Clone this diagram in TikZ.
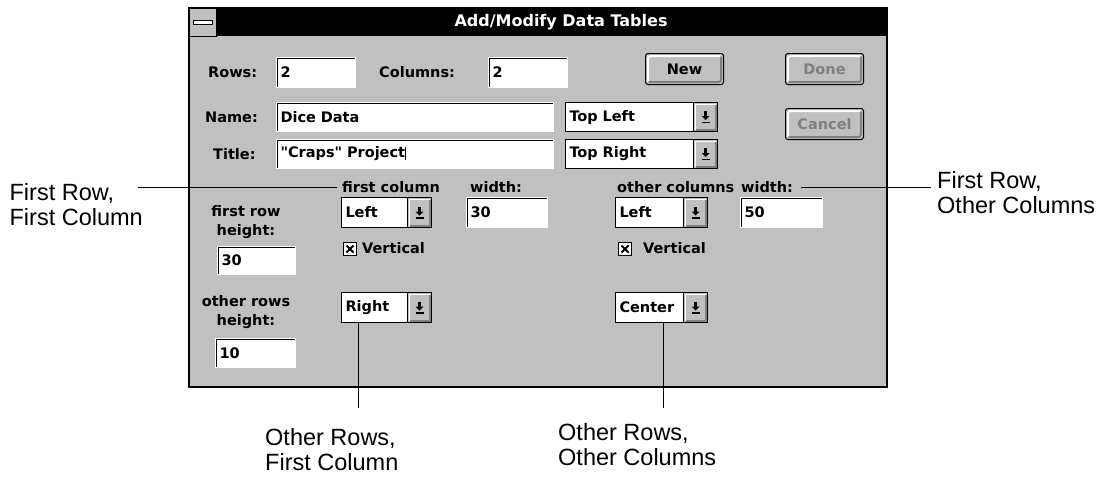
\documentclass[tikz,border=0pt]{standalone}
\usepackage{fontspec}
\setmainfont{Liberation Sans}
\newfontfamily\dlgfont{DejaVu Sans}
\usepackage{tikz}
\usetikzlibrary{calc}
\definecolor{wingray}{RGB}{192,192,192}
\definecolor{darkedge}{RGB}{128,128,128}

\begin{document}
\begin{tikzpicture}[x=1pt, y=-1pt,
  dlg/.style={font=\dlgfont\bfseries\fontsize{14.5}{19}\selectfont},
  lbl/.style={dlg, anchor=west, inner sep=0pt},
  note/.style={font=\fontsize{23.5}{25}\selectfont, align=left, inner sep=0pt},
  lead/.style={line width=1},
  field/.style 2 args={dlg, anchor=north west, fill=white, draw=white, line width=1,
    minimum width=#1, minimum height=#2, text width=#1-8, align=left,
    inner xsep=4pt, inner ysep=0pt,
    path picture={\draw[black, line width=3]
      (path picture bounding box.south west) -- (path picture bounding box.north west)
      -- (path picture bounding box.north east);}},
  combo/.style 2 args={dlg, anchor=north west, fill=white, draw=black, line width=1,
    minimum width=#1, minimum height=#2, text width=#1-8, align=left,
    inner xsep=4pt, inner ysep=0pt,
    path picture={
      \coordinate (cbne) at (path picture bounding box.north east);
      \coordinate (cbse) at (path picture bounding box.south east);
      \draw[draw=black, fill=wingray, line width=1] ($(cbne)+(-24,0)$) rectangle (cbse);
      \draw[white, line width=1.5] ($(cbse)+(-22,-2)$) -- ($(cbne)+(-22,2)$) -- ($(cbne)+(-2,2)$);
      \draw[darkedge, line width=1.5] ($(cbse)+(-22,-1.5)$) -- ($(cbse)+(-1.5,-1.5)$) -- ($(cbne)+(-1.5,2)$);
      \coordinate (cbc) at ($(cbne)!0.5!(cbse)+(-12,0)$);
      \fill[black] ($(cbc)+(-1.2,-6)$) rectangle ($(cbc)+(1.2,-1)$);
      \fill[black] ($(cbc)+(-4,-1)$) -- ($(cbc)+(4,-1)$) -- ($(cbc)+(0,3)$) -- cycle;
      \draw[black, line width=1.4] ($(cbc)+(-4,5.5)$) -- ($(cbc)+(4,5.5)$);}},
  btn/.style={dlg, anchor=north west, fill=wingray, draw=black, line width=1,
    rounded corners=2.5, minimum width=#1, minimum height=31, inner sep=0pt,
    path picture={
      \draw[white, line width=2] ($(path picture bounding box.south west)+(2.5,-3)$)
        -- ($(path picture bounding box.north west)+(2.5,2.5)$)
        -- ($(path picture bounding box.north east)+(-3,2.5)$);
      \draw[darkedge, line width=2] ($(path picture bounding box.south west)+(3,-2.5)$)
        -- ($(path picture bounding box.south east)+(-2.5,-2.5)$)
        -- ($(path picture bounding box.north east)+(-2.5,3)$);}},
  chk/.style={anchor=north west, draw=black, fill=white, line width=1,
    minimum size=13, inner sep=0pt,
    path picture={
      \draw[black, line width=1.8] ($(path picture bounding box.north west)+(3,3)$)
        -- ($(path picture bounding box.south east)+(-3,-3)$);
      \draw[black, line width=1.8] ($(path picture bounding box.south west)+(3,-3)$)
        -- ($(path picture bounding box.north east)+(-3,3)$);}}]
  \useasboundingbox (0,0) rectangle (1109,480);
  % window frame and title bar
  \draw[fill=wingray, line width=1.5] (189,8) rectangle (887,387);
  \fill[black] (189,8) rectangle (887,36);
  \draw[fill=wingray, line width=1] (189,8) rectangle (216,36);
  \draw[fill=white, line width=0.8] (193,20) rectangle (212,24);
  \node[dlg, white, font=\dlgfont\bfseries\fontsize{16}{18}\selectfont] (wintitle) at (561,22) {Add/Modify Data Tables};
  % top rows
  \node[lbl] (rowslbl) at (208,72) {Rows:};
  \node[field={79}{30}] (rowsbox) at (276,57) {2};
  \node[lbl] (colslbl) at (379,72) {Columns:};
  \node[field={79}{30}] (colsbox) at (488,57) {2};
  \node[btn=78] (newbtn) at (645,53) {New};
  \node[btn=78, text=darkedge] (donebtn) at (785,53) {Done};
  \node[lbl] (namelbl) at (205,117) {Name:};
  \node[field={277}{29}] (namebox) at (276,102) {Dice Data};
  \node[combo={152}{29}] (tlcb) at (565,102) {Top Left};
  \node[btn=78, text=darkedge] (cancelbtn) at (785,108) {Cancel};
  \node[lbl] (titlelbl) at (213,154) {Title:};
  \node[field={277}{29}] (titlebox) at (276,139) {"Craps" Project\rule[-2pt]{1pt}{13pt}};
  \node[combo={152}{29}] (trcb) at (565,139) {Top Right};
  % first row settings
  \node[lbl] (firstcol) at (342,187) {first column};
  \node[lbl] (fcwidth) at (470,187) {width:};
  \node[lbl] (othercol) at (617,187) {other columns};
  \node[lbl] (ocwidth) at (741,187) {width:};
  \node[dlg, align=center, inner sep=0pt] (firstrow) at (246,222) {first row\\height:};
  \node[combo={90}{30}] (fclcb) at (341,197) {Left};
  \node[field={81}{30}] (fcwbox) at (466,197) {30};
  \node[combo={92}{30}] (oclcb) at (615,197) {Left};
  \node[field={82}{30}] (ocwbox) at (740,197) {50};
  \node[field={78}{28}] (frhbox) at (217,246) {30};
  \node[chk] (chkA) at (343,242) {};
  \node[lbl] (vertA) at (362,248) {Vertical};
  \node[chk] (chkB) at (618,242) {};
  \node[lbl] (vertB) at (643,248) {Vertical};
  % other rows settings
  \node[dlg, align=center, inner sep=0pt] (otherrows) at (246,312) {other rows\\height:};
  \node[combo={90}{30}] (rightcb) at (341,292) {Right};
  \node[combo={92}{30}] (centercb) at (615,292) {Center};
  \node[field={80}{29}] (orhbox) at (215,338) {10};
  % callouts
  \node[note, anchor=north east] (noteFRFC) at (143,183) {First Row,\\First Column};
  \node[note, anchor=north west] (noteFROC) at (937,171) {First Row,\\Other Columns};
  \node[note, anchor=north west] (noteORFC) at (265,428) {Other Rows,\\First Column};
  \node[note, anchor=north west] (noteOROC) at (558,423) {Other Rows,\\Other Columns};
  \coordinate (lnA) at (358,408);
  \coordinate (lnB) at (663,408);
  \draw[lead] ([xshift=-5pt]noteFRFC.east |- firstcol.west) -- ([xshift=-5pt]firstcol.west);
  \draw[lead] ([xshift=8pt]ocwidth.east) -- ([xshift=-6pt]noteFROC.west |- ocwidth.east);
  \draw[lead] (lnA |- rightcb.south) -- (lnA);
  \draw[lead] (lnB |- centercb.south) -- (lnB);
\end{tikzpicture}
\end{document}
